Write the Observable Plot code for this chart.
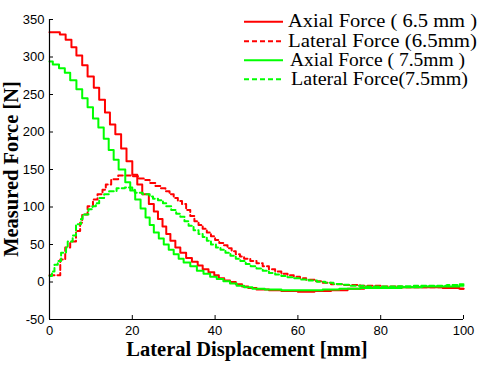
<!DOCTYPE html>
<html><head><meta charset="utf-8">
<script src="https://cdn.jsdelivr.net/npm/d3@7"></script>
<script src="https://cdn.jsdelivr.net/npm/@observablehq/plot@0.6"></script>
<style>
body{margin:0;background:#fff;}
#wrap{position:relative;width:479px;height:365px;overflow:hidden;background:#fff;}
#wrap svg.ov{position:absolute;left:0;top:0;pointer-events:none;}
</style></head><body><div id="wrap"></div>
<script>
// Tick values
const xTicks = [0, 20, 40, 60, 80, 100];
const yTicks = [-50, 0, 50, 100, 150, 200, 250, 300, 350];

// Series: [lateral displacement (mm), force (N)]
const axial65 = [[0,333],[2.5,330],[3.9,323],[5.3,313],[6.5,302],[7.9,289],[9.2,274],[10.7,259],[12,243],[13.4,226],[14.6,210],[15.9,197],[17.3,178],[18.6,161],[20,143],[21.2,130],[22.4,117],[24,104],[25.2,94],[26.2,84],[27.3,74],[28.2,64],[29.2,55],[30.4,46],[31.6,39],[33,32],[34.4,27],[35.8,22],[37,17],[38.4,13],[39.8,9],[40.9,5],[42.2,2],[43.6,0],[45,-3],[46.5,-6],[48,-8],[50,-10],[53,-11],[56,-12],[60,-13],[64,-12],[68,-11],[72,-9],[76,-8],[80,-8],[85,-7],[90,-7],[95,-8],[99,-9],[100,-9]];
const lateral65 = [[0,9],[2.6,30],[3.8,46],[5,54],[6.4,68],[7.4,79],[7.9,90],[9.2,101],[10.5,110],[11.6,117],[12.8,123],[13.6,130],[14.9,137],[16.6,142],[19.6,141],[21.6,138],[22.8,136],[24.2,132],[25.6,128],[26.8,125],[28,121],[29,117],[30,112],[31,108],[32,104],[33,96],[34,88],[35,81],[36,76],[37,71],[38,66],[39,61],[40,56],[41,52],[42,49],[43,45],[44,41],[45,37],[46,34],[47,31],[48.5,28],[50,25],[51.5,21],[53,17],[54.5,14],[56,11],[57.5,9],[59,7],[60.5,5],[62,3],[64,1],[66,-1],[68,-3],[71,-4],[75,-5],[80,-6],[85,-7],[90,-7],[95,-8],[99,-9],[100,-9]];
const axial75 = [[0,294],[0.8,290],[2.3,285],[3.7,279],[5,269],[6.5,257],[7.9,245],[9.2,233],[10.5,218],[11.8,206],[13.1,191],[14.3,176],[15.5,163],[16.7,150],[18.3,133],[19.5,122],[20.7,110],[22,98],[23.2,86],[24.2,76],[25.2,66],[26.4,58],[27.6,50],[28.8,43],[30,37],[31.2,31],[32.4,26],[34,21],[35.6,15],[37.2,11],[38.8,7],[40.4,4],[42,1],[43.6,-2],[45.2,-5],[47,-7],[49,-9],[52,-10],[56,-11],[61,-11],[66,-10],[70,-9],[75,-8],[80,-8],[85,-7],[90,-6],[95,-6],[99,-5],[100,-5]];
const lateral75 = [[0,8],[0.6,14],[1.2,23],[2,28],[2.8,39],[4,47],[4.4,54],[5.6,62],[6.4,77],[7.6,84],[8,90],[9.4,97],[10.4,101],[11.2,105],[12,112],[13.2,117],[14.4,121],[16.2,125],[18.2,126],[20,123],[20.6,119],[22.5,117],[24.2,114],[25,111],[26.2,109],[27.4,105],[28.2,101],[29.4,96],[30.6,91],[31.6,87],[32.6,81],[33.6,75],[34.8,69],[36,64],[37,60],[38,55],[39,50],[40.2,46],[41.3,43],[42.5,39],[43.7,35],[45,31],[46.1,28],[47.4,24],[48.6,21],[50,18],[51.5,15],[53,12],[54.5,10],[56,8],[57.5,6.5],[59,5],[60.6,3.5],[62.6,2],[64.6,0.5],[66.6,-1],[68.6,-2.5],[70.6,-3.5],[72.6,-5],[76,-6],[80,-6],[84,-5.5],[88,-5],[92,-5],[96,-4],[99,-3],[100,-3]];

const seriesNames = ["Axial Force ( 6.5 mm )", "Lateral Force (6.5mm)", "Axial Force ( 7.5mm )", "Lateral Force(7.5mm)"];
const seriesData = [axial65, lateral65, axial75, lateral75];
const seriesColors = ["#ff0000", "#ff0000", "#00ff00", "#00ff00"];
const seriesDash = [null, "5,3", null, "5,3"];

const W = 479, H = 365;
const chart = Plot.plot({
  width: W, height: H,
  marginTop: 19, marginRight: 16, marginBottom: 46, marginLeft: 49,
  x: {domain: [0, 100]},
  y: {domain: [-50, 350]},
  style: {fontFamily: "'Liberation Sans', Arial, sans-serif", fontSize: "13px", background: "white", color: "black"},
  marks: [
    ...seriesData.map((d, i) => Plot.line(d, {
      x: p => p[0], y: p => p[1], curve: "step-after",
      stroke: seriesColors[i], strokeWidth: 2,
      strokeDasharray: seriesDash[i] || undefined
    })),
    Plot.ruleX([0], {stroke: "black", strokeWidth: 1.2}),
    Plot.ruleY([-50], {stroke: "black", strokeWidth: 1.2}),
    Plot.axisX({ticks: xTicks, tickSize: -4, tickPadding: 10, label: null, fontSize: 13, tickFormat: d => String(d)}),
    Plot.axisY({ticks: yTicks, tickSize: -4, tickPadding: 9, label: null, fontSize: 13, tickFormat: d => String(d)})
  ]
});
const wrap = document.getElementById("wrap");
wrap.appendChild(chart);

// Overlay: axis titles and legend
const ns = "http://www.w3.org/2000/svg";
const ov = document.createElementNS(ns, "svg");
ov.setAttribute("class", "ov");
ov.setAttribute("width", W); ov.setAttribute("height", H);
function txt(str, attrs) {
  const t = document.createElementNS(ns, "text");
  for (const k in attrs) t.setAttribute(k, attrs[k]);
  t.textContent = str;
  ov.appendChild(t);
  return t;
}
txt("Lateral Displacement [mm]", {x: 247, y: 356, "text-anchor": "middle", "font-family": "'Liberation Serif', 'Times New Roman', serif", "font-weight": "bold", "font-size": "20.5px"});
txt("Measured Force [N]", {transform: "translate(18,169) rotate(-90)", "text-anchor": "middle", "font-family": "'Liberation Serif', 'Times New Roman', serif", "font-weight": "bold", "font-size": "20.5px"});

const legRowY = [21.7, 41.2, 60.2, 79.2];
const legTextX = [288, 288, 290, 291];
const legTextW = [189, 189, 175, 177];
seriesNames.forEach((name, i) => {
  const l = document.createElementNS(ns, "line");
  l.setAttribute("x1", 244); l.setAttribute("x2", 283);
  l.setAttribute("y1", legRowY[i]); l.setAttribute("y2", legRowY[i]);
  l.setAttribute("stroke", seriesColors[i]); l.setAttribute("stroke-width", 2);
  if (seriesDash[i]) l.setAttribute("stroke-dasharray", seriesDash[i]);
  ov.appendChild(l);
  txt(name, {x: legTextX[i], y: legRowY[i] + 5.5, textLength: legTextW[i], lengthAdjust: "spacingAndGlyphs", "font-family": "'Liberation Serif', 'Times New Roman', serif", "font-size": "19px"});
});
wrap.appendChild(ov);
</script>
</body></html>
